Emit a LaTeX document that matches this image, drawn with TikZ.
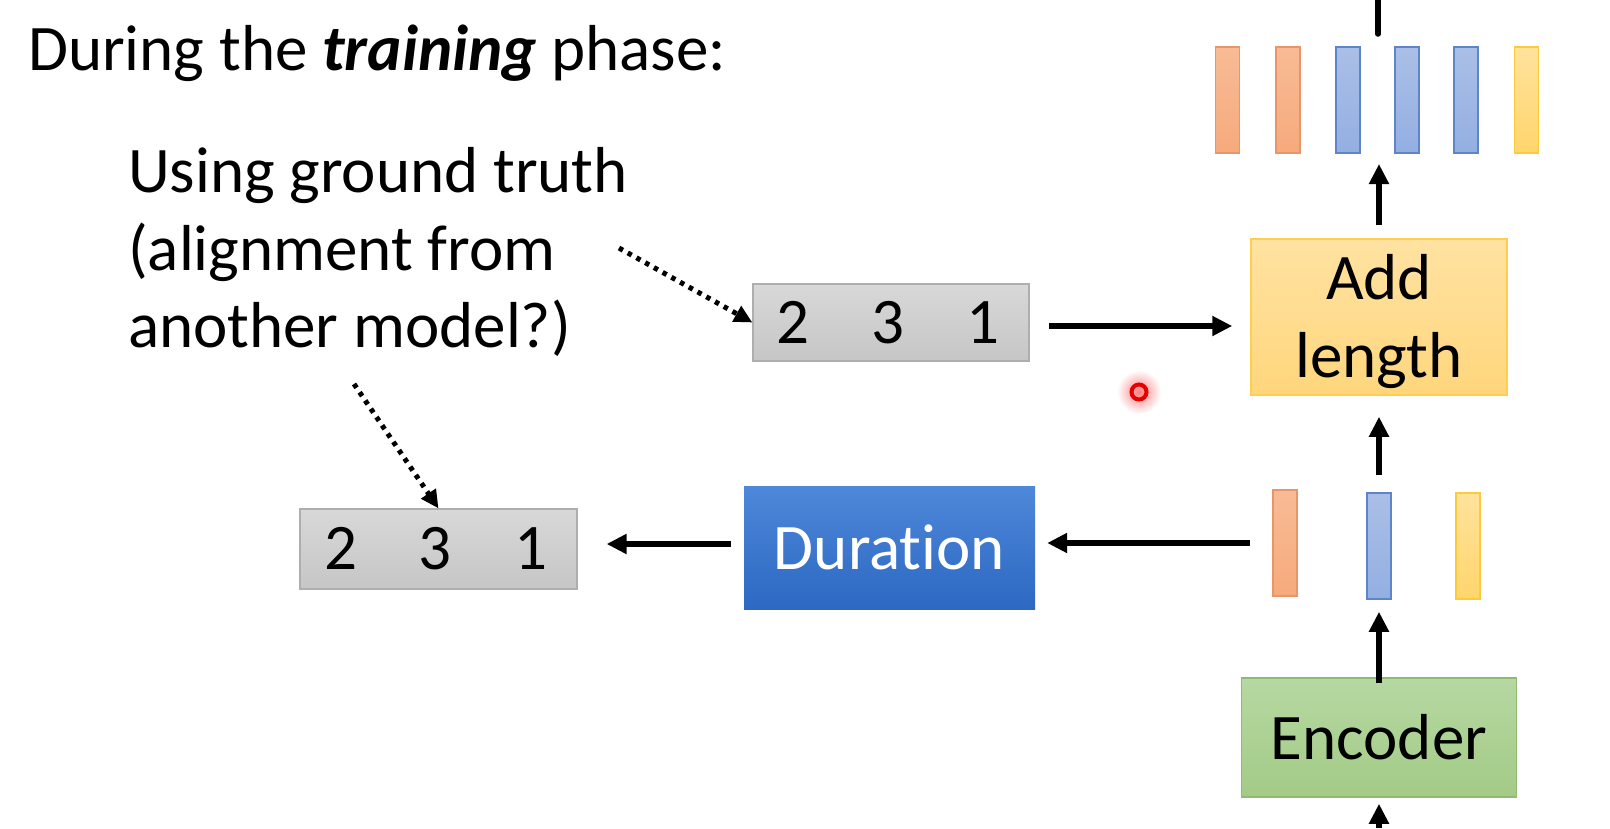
\documentclass[tikz,border=0pt]{standalone}
\usepackage{fontspec}
\setmainfont[Ligatures=NoCommon]{Carlito}
\usetikzlibrary{arrows.meta}
\definecolor{orfill}{HTML}{F8BB95}
\definecolor{orfillb}{HTML}{F6AA7C}
\definecolor{ordraw}{HTML}{E8956A}
\definecolor{blfill}{HTML}{AABFE6}
\definecolor{blfillb}{HTML}{93AFE2}
\definecolor{bldraw}{HTML}{5F84C8}
\definecolor{yefill}{HTML}{FFE29C}
\definecolor{yefillb}{HTML}{FFD56C}
\definecolor{yedraw}{HTML}{FCCB3C}
\definecolor{addtop}{HTML}{FFE2A2}
\definecolor{addbot}{HTML}{FFD67C}
\definecolor{adddraw}{HTML}{FDCF4C}
\definecolor{enctop}{HTML}{B6D8A1}
\definecolor{encbot}{HTML}{A3CB87}
\definecolor{encdraw}{HTML}{8DBB74}
\definecolor{durtop}{HTML}{4D88D9}
\definecolor{durbot}{HTML}{2D68C3}
\definecolor{gtop}{HTML}{D8D8D8}
\definecolor{gbot}{HTML}{C6C6C6}
\definecolor{gdraw}{HTML}{AEAEAE}
\newcommand\dgts{\makebox[0pt]{\hspace{-6pt}\makebox[95pt]{2}\makebox[95pt]{3}\makebox[95pt]{1}}}
\begin{document}
\begin{tikzpicture}[x=1pt,y=-1pt,
  every node/.style={font=\fontsize{65}{78}\selectfont},
  box/.style={inner sep=0pt, align=center},
  gbox/.style={box, draw=gdraw, line width=1.2pt, top color=gtop, bottom color=gbot},
  obar/.style={inner sep=0pt, minimum width=24pt, minimum height=106pt, draw=ordraw, line width=1.5pt, top color=orfill, bottom color=orfillb},
  bbar/.style={obar, draw=bldraw, top color=blfill, bottom color=blfillb},
  ybar/.style={obar, draw=yedraw, top color=yefill, bottom color=yefillb},
  arr/.style={line width=5.5pt, -{Triangle[length=20pt,width=19pt]}},
  dotarr/.style={line width=5pt, dash pattern=on 4.5pt off 5.5pt, -{Triangle[length=18pt,width=17pt]}},
  plain/.style={line width=5.5pt}
]
\useasboundingbox (0,0) rectangle (1610,828);
\fill[white] (0,0) rectangle (1610,828);

% texts
\node[anchor=base west, inner sep=0pt] (title) at (28,70) {During the \textbf{\textit{training}} phase:};
\node[anchor=base west, inner sep=0pt] (l1) at (128,192) {Using ground truth};
\node[anchor=base west, inner sep=0pt] (l2) at (128,270) {(alignment from};
\node[anchor=base west, inner sep=0pt] (l3) at (128,347) {another model?)};

% top bars
\node[obar] (tb1) at (1227.5,100) {};
\node[obar] (tb2) at (1288,100) {};
\node[bbar] (tb3) at (1348,100) {};
\node[bbar] (tb4) at (1407,100) {};
\node[bbar] (tb5) at (1466,100) {};
\node[ybar] (tb6) at (1526.5,100) {};

% add length
\node[box, minimum width=256pt, minimum height=156pt, draw=adddraw, line width=1.5pt, top color=addtop, bottom color=addbot] (add) at (1379,317) {\raisebox{-6pt}[\height][\depth]{\begin{tabular}{@{}c@{}}Add\\length\end{tabular}}};

% bottom bars
\node[obar] (bb1) at (1285,543) {};
\node[bbar] (bb2) at (1379,546) {};
\node[ybar] (bb3) at (1468,546) {};

% encoder
\node[box, minimum width=275pt, minimum height=119pt, draw=encdraw, line width=1.5pt, top color=enctop, bottom color=encbot] (enc) at (1379,737.5) {Encoder};

% duration
\node[box, minimum width=291pt, minimum height=123pt, top color=durtop, bottom color=durbot, text=white] (dur) at (889.5,547.5) {Duration};

% gray boxes
\node[gbox, minimum width=276pt, minimum height=77pt] (gt1) at (891,322.5) {\dgts};
\node[gbox, minimum width=277pt, minimum height=80pt] (gt2) at (438.5,549) {\dgts};

% coordinates
\coordinate (encin) at (1379,828);
\coordinate (topmid) at (1379,153);
\coordinate (toptop) at (1378,47);
\coordinate (topedge) at (1378,0);
\coordinate (d1s) at (619,248);
\coordinate (d2s) at (354,384);

% connectors
\draw[arr, shorten >=6pt] (encin) -- (enc.south);
\draw[arr, shorten <=-6pt, shorten >=12pt] (enc.north) -- (bb2.south);
\draw[arr, shorten <=17pt, shorten >=21pt] (bb2.north) -- (add.south);
\draw[arr, shorten <=13pt, shorten >=11pt] (add.north) -- (topmid);
\draw[plain, line cap=round, shorten <=13pt] (toptop) -- (topedge);
\draw[arr, shorten <=19pt, shorten >=18pt] ([yshift=-3.5pt]gt1.east) -- ([yshift=-3.5pt]gt1.east -| add.west);
\draw[arr, shorten <=22pt, shorten >=12pt] (bb1.west) -- (bb1.west -| dur.east);
\draw[arr, shorten <=13pt, shorten >=29pt] ([yshift=3.5pt]dur.west) -- ([yshift=3.5pt]dur.west -| gt2.east);
\draw[dotarr] (d1s) -- (gt1.west);
\draw[dotarr] (d2s) -- (gt2.north);

% laser pointer dot
\shade[inner color=red!50, outer color=white] (1139,392) circle (22pt);
\draw[line width=4pt, color=red!90!black] (1139,392) circle (7.5pt);
\end{tikzpicture}
\end{document}
